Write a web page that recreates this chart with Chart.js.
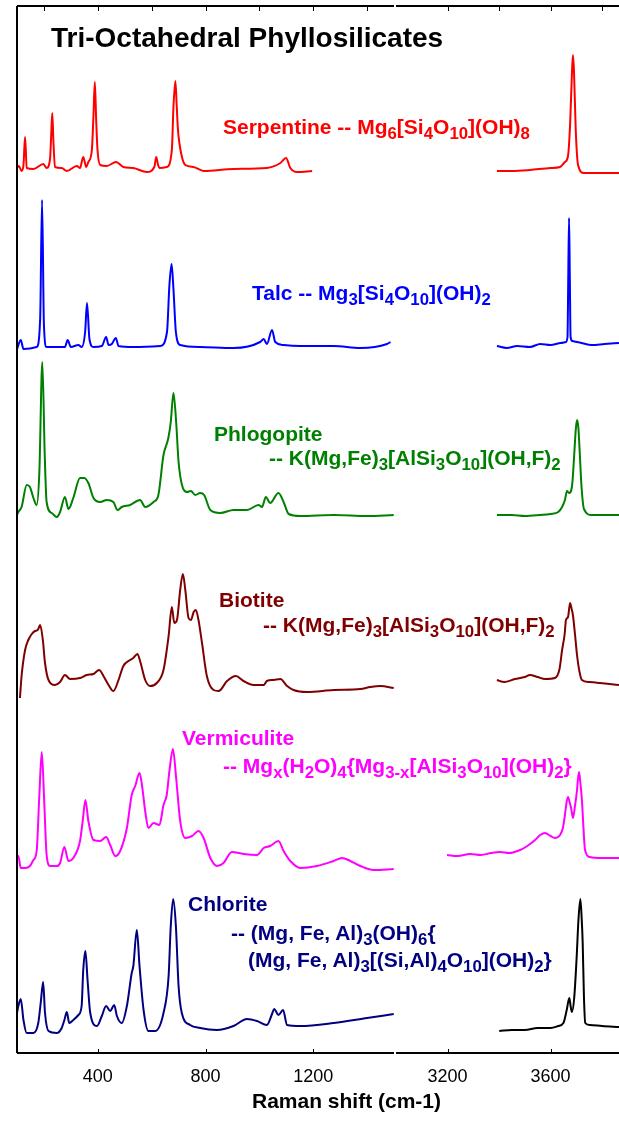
<!DOCTYPE html>
<html>

<head>
  <meta charset="utf-8">
  <title>Tri-Octahedral Phyllosilicates</title>
  <style>
    body {
      margin: 0;
      background: #fff;
      overflow: hidden;
    }

    .wrap {
      position: relative;
      width: 619px;
      height: 1123px;
      font-family: "Liberation Sans", Arial, sans-serif;
    }

    #lowCv {
      position: absolute;
      left: 0;
      top: 0;
    }

    #highCv {
      position: absolute;
      left: 396px;
      top: 0;
    }

    .lbl {
      position: absolute;
      font-weight: bold;
      font-size: 21px;
      line-height: 21px;
      white-space: nowrap;
    }

    .lbl sub {
      font-size: 0.8em;
      vertical-align: baseline;
      position: relative;
      top: 0.3em;
    }
  </style>
</head>

<body>
  <div class="wrap">
    <canvas id="lowCv" width="396" height="1123"></canvas>
    <canvas id="highCv" width="223" height="1123"></canvas>

    <div class="lbl" style="left:51px; top:24px; font-size:28px; line-height:28px; color:#000">Tri-Octahedral Phyllosilicates</div>

    <div class="lbl" style="left:223px; top:116px; color:#ff0000">Serpentine -- Mg<sub>6</sub>[Si<sub>4</sub>O<sub>10</sub>](OH)<sub>8</sub></div>

    <div class="lbl" style="left:252px; top:282px; color:#0000ff">Talc -- Mg<sub>3</sub>[Si<sub>4</sub>O<sub>10</sub>](OH)<sub>2</sub></div>

    <div class="lbl" style="left:214px; top:423px; color:#008000">Phlogopite</div>
    <div class="lbl" style="left:269px; top:447px; color:#008000">-- K(Mg,Fe)<sub>3</sub>[AlSi<sub>3</sub>O<sub>10</sub>](OH,F)<sub>2</sub></div>

    <div class="lbl" style="left:219px; top:589px; color:#800000">Biotite</div>
    <div class="lbl" style="left:263px; top:614px; color:#800000">-- K(Mg,Fe)<sub>3</sub>[AlSi<sub>3</sub>O<sub>10</sub>](OH,F)<sub>2</sub></div>

    <div class="lbl" style="left:182px; top:727px; color:#ff00ff">Vermiculite</div>
    <div class="lbl" style="left:223px; top:755px; color:#ff00ff">-- Mg<sub>x</sub>(H<sub>2</sub>O)<sub>4</sub>{Mg<sub>3-x</sub>[AlSi<sub>3</sub>O<sub>10</sub>](OH)<sub>2</sub>}</div>

    <div class="lbl" style="left:188px; top:893px; color:#000080">Chlorite</div>
    <div class="lbl" style="left:231px; top:922px; color:#000080">-- (Mg, Fe, Al)<sub>3</sub>(OH)<sub>6</sub>{</div>
    <div class="lbl" style="left:248px; top:949px; color:#000080">(Mg, Fe, Al)<sub>3</sub>[(Si,Al)<sub>4</sub>O<sub>10</sub>](OH)<sub>2</sub>}</div>

    <div class="lbl" style="left:252px; top:1090px; font-size:21px; line-height:21px; color:#000">Raman shift (cm-1)</div>
  </div>

  <script src="https://cdn.jsdelivr.net/npm/chart.js"></script>

  <script>
    // vertical offsets of each trace (stacked spectra), top to bottom
    const offsets = [883, 706, 538, 364, 185, 25];

    // tick values
    const lowLabelTicks = [400, 800, 1200];
    const lowTopTicks = [200, 400, 600, 800, 1000, 1200, 1400];
    const highLabelTicks = [3200, 3600];
    const highTopTicks = [3200, 3400, 3600, 3800];

    // Serpentine
    const serpLowX = [100, 107, 117, 124, 130, 136, 161, 198, 210, 223, 227, 231, 235, 241, 266, 285, 322, 334, 346, 357, 365, 378, 384, 389, 394, 399, 409, 433, 468, 495, 532, 582, 610, 617, 624, 629, 656, 675, 681, 688, 693, 697, 703, 725, 755, 793, 904, 1028, 1078, 1099, 1115, 1140, 1196];
    const serpLowY = [2, 4, -1, 5, 33, 2, 1, 6, 2, 12, 35, 57, 30, 3, 2, -1, 4, 2, 13, 3, 8, 20, 55, 88, 50, 20, 5, 4, 8, 3, 2, -2, 3, 13, 5, 2, 3, 20, 63, 89, 65, 43, 27, 5, 3, -1, 1, 2, 7, 12, 2, -2, -1];
    const serpHighX = [3392, 3450, 3520, 3600, 3637, 3656, 3668, 3676, 3683, 3687, 3691, 3698, 3707, 3730, 3780, 3866];
    const serpHighY = [-1, -1, 0, 2, 3, 8, 14, 45, 95, 115, 100, 40, 5, -3, -3, -3];

    // Talc
    const talcLowX = [100, 114, 124, 173, 186, 193, 200, 210, 278, 288, 300, 328, 340, 353, 360, 369, 384, 415, 431, 440, 452, 467, 477, 532, 632, 657, 666, 674, 681, 690, 706, 780, 904, 1003, 1016, 1028, 1047, 1059, 1090, 1152, 1276, 1375, 1474, 1487];
    const talcLowY = [-2, 7, -2, 0, 28, 147, 22, 0, 0, 7, 0, 2, 0, 15, 44, 8, 0, 1, 10, 2, 3, 9, 1, 0, 1, 15, 62, 83, 58, 15, 2, 0, -1, 5, 8, 3, 17, 5, 2, 1, 1, -1, 3, 5];
    const talcHighX = [3392, 3430, 3470, 3520, 3560, 3600, 3640, 3660, 3666, 3669, 3672, 3675, 3678, 3685, 3720, 3760, 3810, 3866];
    const talcHighY = [1, -1, 1, 0, 3, 2, 4, 5, 10, 70, 129, 70, 10, 6, 4, 2, 3, 4];

    // Phlogopite
    const phlogLowX = [100, 105, 117, 136, 148, 161, 173, 183, 194, 203, 210, 229, 248, 260, 278, 291, 309, 334, 349, 365, 384, 409, 433, 458, 473, 489, 520, 557, 576, 607, 625, 644, 662, 671, 681, 691, 700, 716, 731, 746, 762, 780, 795, 818, 855, 904, 954, 997, 1010, 1024, 1040, 1071, 1090, 1109, 1152, 1276, 1400, 1499];
    const phlogLowY = [0, 3, 8, 30, 28, 17, 10, 43, 153, 60, 13, 2, -2, 3, 18, 6, 17, 37, 37, 32, 17, 13, 15, 13, 5, 8, 10, 15, 8, 13, 20, 60, 77, 93, 122, 93, 53, 27, 23, 24, 20, 22, 20, 5, 2, 5, 5, 10, 8, 18, 12, 22, 13, 1, -1, 0, -1, 0];
    const phlogHighX = [3392, 3450, 3500, 3560, 3600, 3630, 3645, 3656, 3664, 3672, 3684, 3692, 3698, 3703, 3708, 3714, 3720, 3730, 3760, 3810, 3866];
    const phlogHighY = [0, 0, -1, 0, 1, 3, 8, 15, 24, 22, 30, 60, 85, 95, 88, 60, 30, 6, 0, 0, 0];

    // Biotite
    const bioLowX = [111, 117, 130, 142, 155, 167, 177, 186, 196, 204, 217, 241, 260, 278, 297, 334, 359, 384, 405, 421, 440, 458, 477, 495, 520, 532, 547, 557, 576, 594, 619, 644, 663, 675, 684, 694, 706, 716, 725, 737, 746, 756, 764, 774, 787, 805, 830, 849, 880, 913, 941, 979, 1016, 1028, 1053, 1078, 1103, 1127, 1177, 1276, 1375, 1412, 1450, 1499];
    const bioLowY = [-9, 13, 39, 49, 55, 58, 59, 64, 49, 26, 9, 4, 7, 14, 10, 11, 14, 15, 19, 13, 4, -2, 9, 23, 29, 31, 35, 28, 9, 3, 6, 19, 53, 82, 66, 69, 99, 115, 99, 71, 69, 77, 79, 69, 46, 13, -1, -2, 8, 13, 8, 4, 4, 8, 9, 10, 3, -1, -3, -1, 0, 2, 3, 1];
    const bioHighX = [3392, 3420, 3462, 3500, 3520, 3550, 3579, 3617, 3635, 3645, 3655, 3660, 3668, 3676, 3682, 3687, 3695, 3703, 3712, 3722, 3750, 3792, 3830, 3866];
    const bioHighY = [9, 7, 10, 12, 14, 12, 10, 11, 20, 39, 55, 69, 72, 86, 80, 74, 55, 34, 18, 9, 7, 6, 5, 4];

    // Vermiculite
    const vermLowX = [100, 105, 114, 130, 148, 161, 173, 183, 192, 201, 210, 223, 248, 260, 276, 291, 309, 334, 344, 354, 365, 384, 409, 431, 446, 465, 483, 508, 526, 539, 555, 564, 576, 588, 607, 629, 644, 656, 666, 679, 691, 706, 725, 750, 774, 793, 818, 843, 867, 898, 941, 991, 1016, 1040, 1071, 1090, 1115, 1152, 1214, 1276, 1307, 1338, 1375, 1425, 1499];
    const vermLowY = [10, 12, 0, 0, 2, 8, 17, 73, 116, 67, 13, 2, 2, 5, 21, 7, 10, 27, 47, 68, 47, 28, 27, 31, 23, 12, 17, 40, 73, 82, 95, 83, 57, 40, 45, 43, 63, 73, 97, 119, 90, 47, 30, 32, 37, 30, 10, 2, 5, 16, 14, 13, 20, 22, 27, 17, 7, 0, 2, 7, 10, 7, 2, -2, -1];
    const vermHighX = [3198, 3240, 3287, 3330, 3370, 3404, 3440, 3482, 3510, 3540, 3560, 3579, 3600, 3617, 3637, 3648, 3656, 3662, 3668, 3674, 3680, 3687, 3695, 3703, 3707, 3711, 3716, 3722, 3728, 3734, 3753, 3800, 3866];
    const vermHighY = [13, 12, 14, 13, 15, 16, 15, 18, 22, 28, 33, 35, 32, 30, 33, 40, 53, 65, 71, 66, 60, 50, 62, 78, 90, 96, 85, 68, 40, 18, 11, 10, 10];

    // Chlorite
    const chlLowX = [100, 105, 114, 124, 136, 161, 179, 188, 197, 204, 217, 248, 266, 276, 285, 294, 309, 328, 340, 346, 354, 362, 372, 397, 415, 431, 446, 461, 471, 489, 508, 526, 532, 545, 555, 570, 588, 613, 644, 663, 671, 680, 690, 700, 712, 743, 780, 842, 904, 954, 991, 1028, 1047, 1055, 1071, 1088, 1103, 1152, 1276, 1400, 1499];
    const chlLowY = [15, 22, 29, 8, -5, -5, 5, 25, 46, 15, -3, -5, 0, 8, 16, 5, 8, 13, 22, 58, 77, 48, 15, 2, 12, 22, 17, 23, 12, 5, 22, 55, 62, 98, 62, 18, -3, -3, 15, 52, 102, 129, 102, 42, 15, 3, 0, -2, 2, 9, 7, 3, 14, 19, 13, 18, 3, 2, 5, 10, 14];
    const chlHighX = [3401, 3450, 3500, 3550, 3600, 3630, 3650, 3663, 3673, 3678, 3683, 3692, 3701, 3709, 3716, 3721, 3725, 3730, 3735, 3753, 3800, 3866];
    const chlHighY = [-3, -2, -2, 0, 0, 2, 5, 18, 30, 22, 16, 30, 68, 110, 129, 110, 85, 30, 5, 3, 2, 1];

    const lowColors = ['#ff0000', '#0000ff', '#008000', '#800000', '#ff00ff', '#000080'];
    const highColors = ['#ff0000', '#0000ff', '#008000', '#800000', '#ff00ff', '#000000'];

    const lowSeries = [[serpLowX, serpLowY], [talcLowX, talcLowY], [phlogLowX, phlogLowY],
    [bioLowX, bioLowY], [vermLowX, vermLowY], [chlLowX, chlLowY]];
    const highSeries = [[serpHighX, serpHighY], [talcHighX, talcHighY], [phlogHighX, phlogHighY],
    [bioHighX, bioHighY], [vermHighX, vermHighY], [chlHighX, chlHighY]];

    function toPoints(xs, ys, off) {
      return xs.map((x, i) => ({ x: x, y: ys[i] + off }));
    }

    function makeDatasets(series, colors) {
      return series.map((s, i) => ({
        data: toPoints(s[0], s[1], offsets[i]),
        borderColor: colors[i],
        borderWidth: 2,
        pointRadius: 0,
        cubicInterpolationMode: 'monotone',
        fill: false
      }));
    }

    // frame, inward ticks and tick labels, drawn from the x scale
    function makeFrame(topTicks, labelTicks, leftAxis) {
      return {
        id: 'frame',
        afterDraw(chart) {
          const ctx = chart.ctx;
          const a = chart.chartArea;
          const x = chart.scales.x;
          ctx.save();
          ctx.strokeStyle = '#000';
          ctx.lineWidth = 2;
          ctx.beginPath();
          ctx.moveTo(a.left, a.top);
          ctx.lineTo(a.right, a.top);
          ctx.moveTo(a.left, a.bottom);
          ctx.lineTo(a.right, a.bottom);
          if (leftAxis) {
            ctx.moveTo(a.left, a.top);
            ctx.lineTo(a.left, a.bottom);
          }
          ctx.stroke();

          ctx.lineWidth = 1;
          ctx.beginPath();
          topTicks.forEach(v => {
            const px = Math.round(x.getPixelForValue(v)) + 0.5;
            ctx.moveTo(px, a.top);
            ctx.lineTo(px, a.top + 5);
          });
          labelTicks.forEach(v => {
            const px = Math.round(x.getPixelForValue(v)) + 0.5;
            ctx.moveTo(px, a.bottom);
            ctx.lineTo(px, a.bottom - 4);
          });
          ctx.stroke();

          ctx.fillStyle = '#000';
          ctx.font = '18px "Liberation Sans", Arial, sans-serif';
          ctx.textAlign = 'center';
          ctx.textBaseline = 'middle';
          labelTicks.forEach(v => ctx.fillText(String(v), x.getPixelForValue(v), a.bottom + 24));
          ctx.restore();
        }
      };
    }

    function makeOptions(xmin, xmax, padLeft, padRight) {
      return {
        responsive: false,
        animation: false,
        layout: { padding: { left: padLeft, right: padRight, top: 6, bottom: 70 } },
        plugins: { legend: { display: false }, tooltip: { enabled: false } },
        scales: {
          x: { type: 'linear', min: xmin, max: xmax, display: false },
          y: { min: 0, max: 1047, display: false }
        }
      };
    }

    new Chart(document.getElementById('lowCv'), {
      type: 'line',
      data: { datasets: makeDatasets(lowSeries, lowColors) },
      options: makeOptions(100, 1500, 17, 2),
      plugins: [makeFrame(lowTopTicks, lowLabelTicks, true)]
    });

    new Chart(document.getElementById('highCv'), {
      type: 'line',
      data: { datasets: makeDatasets(highSeries, highColors) },
      options: makeOptions(3000, 3866, 0, 0),
      plugins: [makeFrame(highTopTicks, highLabelTicks, false)]
    });
  </script>
</body>

</html>
